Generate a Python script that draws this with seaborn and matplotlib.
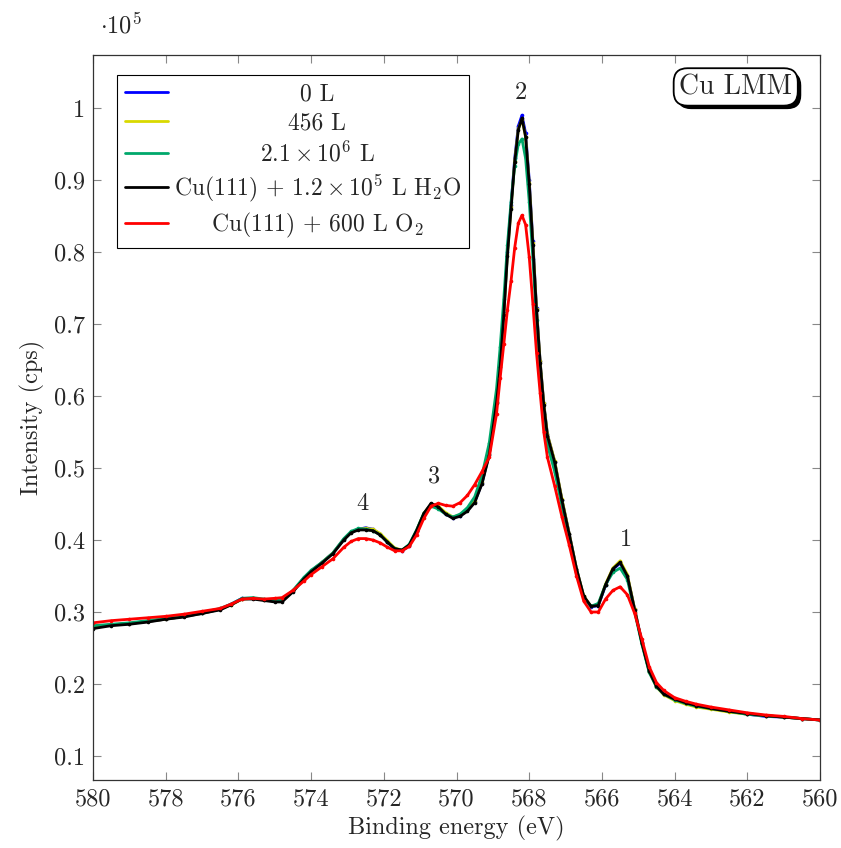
import numpy as np
import pandas as pd
import matplotlib
matplotlib.use('Agg')
import matplotlib.pyplot as plt
import matplotlib.patheffects as pe
from matplotlib.ticker import FuncFormatter, MultipleLocator
import seaborn as sns

# Binding energy grid (eV)
energy = [580.0, 579.5, 579.0, 578.5, 578.0, 577.5, 577.0, 576.5, 576.2, 575.9,
          575.6, 575.3, 575.0, 574.8, 574.5, 574.2, 574.0, 573.7, 573.4, 573.1,
          572.9, 572.7, 572.5, 572.3, 572.1, 571.9, 571.7, 571.5, 571.3, 571.1,
          570.9, 570.7, 570.5, 570.3, 570.1, 569.9, 569.7, 569.5, 569.3, 569.1,
          568.9, 568.8, 568.7, 568.6, 568.5, 568.4, 568.3, 568.2, 568.1, 568.0,
          567.9, 567.8, 567.7, 567.6, 567.5, 567.3, 567.1, 566.9, 566.7, 566.5,
          566.3, 566.1, 565.9, 565.7, 565.5, 565.3, 565.1, 564.9, 564.7, 564.5,
          564.3, 564.0, 563.7, 563.4, 563.0, 562.5, 562.0, 561.5, 561.0, 560.5,
          560.0]

# Intensities in units of 1e5 cps
blue_0L = [0.280, 0.282, 0.284, 0.287, 0.290, 0.294, 0.298, 0.304, 0.311, 0.319,
           0.319, 0.317, 0.315, 0.316, 0.329, 0.347, 0.357, 0.369, 0.382, 0.401,
           0.411, 0.415, 0.417, 0.415, 0.408, 0.397, 0.387, 0.385, 0.392, 0.412,
           0.436, 0.450, 0.446, 0.436, 0.431, 0.434, 0.441, 0.453, 0.479, 0.520,
           0.592, 0.643, 0.715, 0.800, 0.866, 0.930, 0.975, 0.990, 0.965, 0.900,
           0.815, 0.722, 0.648, 0.590, 0.547, 0.509, 0.456, 0.409, 0.360, 0.321,
           0.307, 0.309, 0.337, 0.359, 0.368, 0.350, 0.304, 0.258, 0.218, 0.197,
           0.186, 0.178, 0.173, 0.169, 0.166, 0.162, 0.158, 0.155, 0.154, 0.152,
           0.150]

yellow_456L = [0.280, 0.282, 0.284, 0.287, 0.290, 0.294, 0.298, 0.304, 0.310, 0.318,
               0.319, 0.317, 0.315, 0.316, 0.329, 0.347, 0.357, 0.369, 0.382, 0.401,
               0.411, 0.415, 0.416, 0.415, 0.409, 0.399, 0.389, 0.386, 0.393, 0.413,
               0.437, 0.450, 0.447, 0.438, 0.432, 0.435, 0.442, 0.454, 0.480, 0.520,
               0.592, 0.642, 0.714, 0.797, 0.862, 0.926, 0.971, 0.984, 0.960, 0.896,
               0.812, 0.721, 0.648, 0.590, 0.547, 0.510, 0.457, 0.409, 0.360, 0.322,
               0.308, 0.310, 0.339, 0.361, 0.371, 0.352, 0.304, 0.257, 0.217, 0.196,
               0.185, 0.177, 0.172, 0.168, 0.165, 0.161, 0.158, 0.156, 0.154, 0.152,
               0.150]

green_2e6L = [0.281, 0.283, 0.285, 0.288, 0.291, 0.294, 0.299, 0.305, 0.311, 0.319,
              0.320, 0.318, 0.316, 0.317, 0.330, 0.348, 0.358, 0.369, 0.382, 0.402,
              0.412, 0.416, 0.415, 0.413, 0.407, 0.397, 0.388, 0.386, 0.394, 0.414,
              0.437, 0.447, 0.443, 0.436, 0.432, 0.436, 0.445, 0.460, 0.490, 0.535,
              0.610, 0.668, 0.735, 0.810, 0.870, 0.920, 0.950, 0.957, 0.930, 0.870,
              0.790, 0.705, 0.632, 0.575, 0.532, 0.495, 0.447, 0.400, 0.355, 0.320,
              0.308, 0.312, 0.338, 0.355, 0.361, 0.345, 0.300, 0.255, 0.216, 0.196,
              0.186, 0.178, 0.173, 0.169, 0.166, 0.162, 0.158, 0.156, 0.154, 0.152,
              0.150]

black_h2o = [0.277, 0.281, 0.283, 0.286, 0.290, 0.293, 0.298, 0.303, 0.310, 0.318,
             0.318, 0.316, 0.314, 0.314, 0.328, 0.346, 0.356, 0.368, 0.381, 0.400,
             0.410, 0.414, 0.414, 0.413, 0.407, 0.397, 0.388, 0.386, 0.393, 0.413,
             0.437, 0.451, 0.446, 0.436, 0.430, 0.433, 0.440, 0.452, 0.478, 0.518,
             0.590, 0.640, 0.712, 0.795, 0.860, 0.925, 0.970, 0.986, 0.960, 0.895,
             0.810, 0.719, 0.646, 0.588, 0.545, 0.508, 0.455, 0.408, 0.360, 0.322,
             0.308, 0.309, 0.338, 0.360, 0.369, 0.350, 0.303, 0.257, 0.218, 0.197,
             0.186, 0.179, 0.174, 0.170, 0.166, 0.162, 0.159, 0.156, 0.154, 0.152,
             0.150]

red_o2 = [0.285, 0.288, 0.290, 0.292, 0.294, 0.297, 0.301, 0.305, 0.311, 0.318,
          0.319, 0.318, 0.319, 0.320, 0.330, 0.343, 0.352, 0.363, 0.374, 0.390,
          0.398, 0.402, 0.402, 0.400, 0.396, 0.390, 0.385, 0.385, 0.391, 0.407,
          0.430, 0.447, 0.451, 0.448, 0.447, 0.452, 0.462, 0.477, 0.495, 0.515,
          0.575, 0.625, 0.672, 0.720, 0.760, 0.806, 0.840, 0.851, 0.838, 0.793,
          0.728, 0.660, 0.604, 0.550, 0.515, 0.475, 0.432, 0.393, 0.350, 0.315,
          0.300, 0.300, 0.318, 0.330, 0.335, 0.324, 0.298, 0.262, 0.224, 0.202,
          0.191, 0.181, 0.176, 0.172, 0.168, 0.164, 0.160, 0.157, 0.155, 0.152,
          0.150]

series_names = ['0 L', '456 L', r'$2.1\times10^{6}$ L',
                r'Cu(111) + $1.2\times10^{5}$ L H$_2$O',
                r'Cu(111) + 600 L O$_2$']
series_values = [blue_0L, yellow_456L, green_2e6L, black_h2o, red_o2]
colors = ['#0000ff', '#d9d900', '#00a86b', '#000000', '#ff0000']

# Peak labels
peak_labels = ['1', '2', '3', '4']
peak_pos = [(565.35, 0.400), (568.22, 1.021), (570.62, 0.489), (572.6, 0.450)]

rows = []
for name, vals in zip(series_names, series_values):
    for e, v in zip(energy, vals):
        rows.append({'energy': e, 'cps': v * 1e5, 'series': name})
df = pd.DataFrame(rows)

sns.set_theme(style='ticks')
plt.rcParams['font.family'] = ['cmr10']
plt.rcParams['mathtext.fontset'] = 'cm'
plt.rcParams['axes.formatter.use_mathtext'] = True
plt.rcParams['axes.unicode_minus'] = False

FS = 17.5

fig = plt.figure(figsize=(8.41, 8.48), dpi=100)
ax = fig.add_axes([0.1106, 0.0802, 0.8645, 0.8549])

sns.lineplot(data=df, x='energy', y='cps', hue='series', hue_order=series_names,
             palette=colors, sort=False, estimator=None, linewidth=2.0,
             marker='o', markersize=2.6, markeredgewidth=0, legend=False, ax=ax)

ax.set_xlim(580, 560)
ax.set_ylim(0.0667e5, 1.0736e5)
ax.xaxis.set_major_locator(MultipleLocator(2))
ax.yaxis.set_major_locator(MultipleLocator(0.1e5))
ax.yaxis.set_major_formatter(FuncFormatter(lambda v, p: f'{v / 1e5:g}'))
ax.xaxis.set_major_formatter(FuncFormatter(lambda v, p: f'{v:g}'))
ax.tick_params(direction='in', length=6, width=0.8, color='#888888',
               top=True, right=True, labelsize=FS, pad=6)
for s in ax.spines.values():
    s.set_color('#333333')
    s.set_linewidth(0.9)

ax.set_xlabel('Binding energy (eV)', fontsize=FS, labelpad=4)
ax.set_ylabel('Intensity (cps)', fontsize=FS, labelpad=6)

fig.text(100 / 841, 1 - 25 / 848, r'$\cdot 10^{5}$', fontsize=FS, ha='left', va='center')

for lab, (e, v) in zip(peak_labels, peak_pos):
    ax.text(e, v * 1e5, lab, fontsize=FS, ha='center', va='center')

# Cu LMM box with shadow
txt = ax.text(0.884, 0.956, 'Cu LMM', transform=ax.transAxes, ha='center', va='center',
              fontsize=20, bbox=dict(boxstyle='round,pad=0.2,rounding_size=0.5',
                                     fc='white', ec='black', lw=1.3))
txt.get_bbox_patch().set_path_effects([
    pe.SimplePatchShadow(offset=(2.5, -2.5), shadow_rgbFace='black', alpha=1.0),
    pe.Normal()])

leg = ax.legend(handles=ax.lines[:5], labels=series_names, loc='upper left',
                bbox_to_anchor=(0.033, 0.972), borderaxespad=0, frameon=True,
                fancybox=False, edgecolor='black', framealpha=1, handlelength=1.8,
                handletextpad=0.25, labelspacing=0.28, fontsize=17, borderpad=0.35)
leg.get_frame().set_linewidth(0.8)
for h in leg.legend_handles:
    h.set_marker('')

# center legend labels like pgfplots does
fig.canvas.draw()
texts = leg.get_texts()
boxes = [t.get_window_extent() for t in texts]
left = min(b.x0 for b in boxes)
wmax = max(b.width for b in boxes)
for t, b in zip(texts, boxes):
    t.set_x(left + wmax / 2 - (b.x0 + b.width / 2))

fig.savefig('out.png', dpi=100)
